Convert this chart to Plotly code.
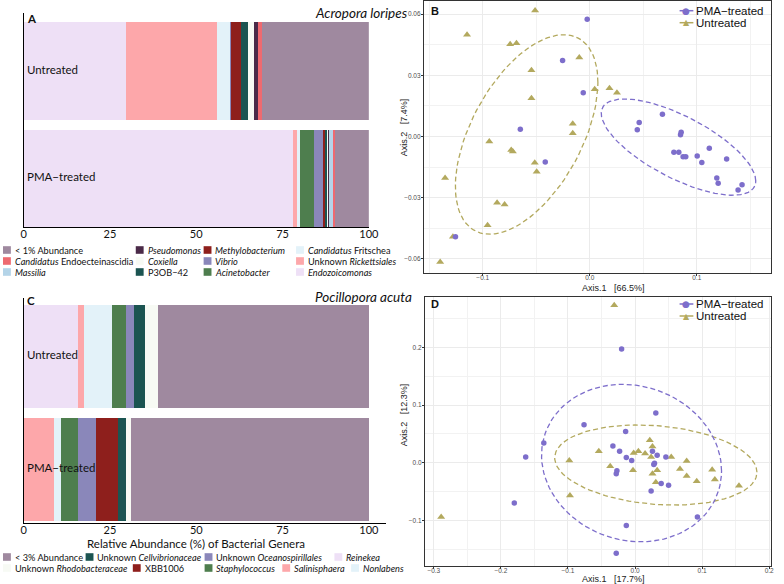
import numpy as np
import plotly.graph_objects as go

W, H = 784, 584

# ---- A: Acropora loripes, relative abundance (%) ----
a_groups = ['PMA-treated', 'Untreated']
a_genera = ['Endozoicomonas', 'Unknown Rickettsiales', 'Candidatus Fritschea', 'Acinetobacter',
            'Vibrio', 'Methylobacterium', 'P3OB-42', 'Coxiella', 'Pseudomonas', 'Massilia',
            'Candidatus Endoecteinascidia', '< 1% Abundance']
a_colors = ['#EEE0F6', '#FDA7AA', '#E3F2F9', '#4E7E4E', '#8A87BA', '#8E1F1C',
            '#1B5451', '#F7FAF4', '#4A2A48', '#B4D4E8', '#EE6A70', '#9F899F']
a_pma = [78.1, 1.1, 0.8, 4.0, 2.9, 0.4, 0.6, 0.2, 0.4, 1.3, 0.4, 9.8]
a_untreated = [29.7, 26.4, 3.8, 0.0, 0.2, 3.0, 1.9, 1.7, 1.1, 0.1, 1.1, 31.0]

# ---- C: Pocillopora acuta ----
c_genera = ['Reinekea', 'Salinisphaera', 'Nonlabens', 'Staphylococcus', 'Unknown Oceanospirillales',
            'XBB1006', 'Unknown Cellvibrionaceae', 'Unknown Rhodobacteraceae', '< 3% Abundance']
c_colors = ['#EEE0F6', '#FDA7AA', '#E3F2F9', '#4E7E4E', '#8A87BA', '#8E1F1C',
            '#1B5451', '#F7FAF4', '#9F899F']
c_pma = [0.0, 8.7, 2.0, 5.1, 5.3, 6.2, 2.4, 1.3, 69.0]
c_untreated = [15.7, 1.7, 8.1, 4.2, 2.3, 0.0, 3.1, 3.9, 61.0]

# ---- B: PCoA, Acropora loripes ----
b_pma_x = [-0.0024, -0.0254, -0.0061, -0.0649, -0.0416, -0.1255, 0.0462, 0.0444, 0.0679, 0.0854,
           0.0848, 0.0786, 0.0832, 0.0872, 0.0897, 0.1004, 0.1117, 0.1047, 0.1279, 0.1187,
           0.1200, 0.1423, 0.1386]
b_pma_y = [0.0574, 0.0373, 0.0214, 0.0035, -0.0125, -0.0491, 0.0069, 0.0033, 0.0109, 0.0021,
           0.0008, -0.0077, -0.0077, -0.0099, -0.0099, -0.0096, -0.0058, -0.0127, -0.0110, -0.0203,
           -0.0229, -0.0236, -0.0262]
b_unt_x = [-0.0511, -0.1147, -0.0744, -0.0685, -0.0098, -0.0545, 0.0046, 0.0184, 0.0254, -0.0545,
           -0.0159, -0.0159, -0.0939, -0.0734, -0.0719, -0.0514, -0.0496, -0.1352, -0.0866, -0.0796,
           -0.0955, -0.1279, -0.1398]
b_unt_y = [0.0618, 0.0499, 0.0452, 0.0457, 0.0387, 0.0325, 0.0232, 0.0236, 0.0214, 0.0188,
           0.0063, 0.0016, -0.0025, -0.0066, -0.0074, -0.0129, -0.0173, -0.0203, -0.0325, -0.0333,
           -0.0435, -0.0491, -0.0615]
# 95% ellipses: centre x, centre y, half-width x, half-height y, correlation
b_pma_ell = [0.0829, -0.0052, 0.0722, 0.0236, -0.70]
b_unt_ell = [-0.0590, 0.0010, 0.0666, 0.0489, 0.52]

# ---- D: PCoA, Pocillopora acuta ----
d_pma_x = [-0.020, 0.031, -0.076, -0.014, -0.136, -0.163, -0.033, -0.023, -0.013, -0.005,
           0.026, 0.033, 0.029, 0.028, 0.046, 0.039, 0.050, 0.024, -0.027, -0.028,
           -0.180, 0.093, -0.013, -0.028]
d_pma_y = [0.197, 0.086, 0.066, 0.054, 0.034, 0.010, 0.029, 0.020, 0.009, 0.004,
           0.020, 0.013, -0.001, -0.003, 0.010, -0.036, -0.039, -0.049, -0.014, -0.019,
           -0.070, -0.094, -0.109, -0.157]
d_unt_x = [-0.031, -0.289, -0.098, -0.097, -0.054, -0.037, -0.003, -0.002, 0.005, 0.015,
           0.022, 0.026, 0.024, 0.026, 0.033, 0.031, 0.054, 0.067, 0.077, 0.077,
           0.092, 0.115, 0.119, 0.155]
d_unt_y = [0.273, -0.094, 0.004, -0.057, 0.020, -0.006, -0.013, 0.017, 0.020, 0.016,
           0.039, 0.028, 0.010, -0.019, -0.013, -0.034, 0.010, -0.011, 0.003, -0.023,
           -0.032, -0.012, -0.029, -0.040]
d_pma_ell = [-0.0052, -0.0006, 0.1342, 0.1364, -0.10]
d_unt_ell = [0.0310, -0.0040, 0.1508, 0.0694, -0.18]

PMA_COL = '#7D6ECB'
UNT_COL = '#B3A95E'


def ellipse(params, seg=100):
    cx, cy, rx, ry, rho = params
    t = np.linspace(0, 2 * np.pi, seg)
    return cx + rx * np.cos(t), cy + ry * (rho * np.cos(t) + np.sqrt(1 - rho ** 2) * np.sin(t))


def px(x):
    return x / W


def py(y):
    return 1 - y / H


fig = go.Figure()

# stacked bars
for name, col, p, u in zip(a_genera, a_colors, a_pma, a_untreated):
    fig.add_trace(go.Bar(x=[p, u], y=a_groups, orientation='h', name=name, width=0.91,
                         marker=dict(color=col, line_width=0), xaxis='x', yaxis='y'))
for name, col, p, u in zip(c_genera, c_colors, c_pma, c_untreated):
    fig.add_trace(go.Bar(x=[p, u], y=a_groups, orientation='h', name=name, width=0.907,
                         marker=dict(color=col, line_width=0), xaxis='x3', yaxis='y3'))

# ordination panels
for xa, ya, pxs, pys, uxs, uys, pe, ue in [
        ('x2', 'y2', b_pma_x, b_pma_y, b_unt_x, b_unt_y, b_pma_ell, b_unt_ell),
        ('x4', 'y4', d_pma_x, d_pma_y, d_unt_x, d_unt_y, d_pma_ell, d_unt_ell)]:
    for par, col in [(ue, UNT_COL), (pe, PMA_COL)]:
        ex, ey = ellipse(par)
        fig.add_trace(go.Scatter(x=ex, y=ey, mode='lines', xaxis=xa, yaxis=ya,
                                 line=dict(color=col, width=1.3, dash='5px,3px'), hoverinfo='skip'))
    fig.add_trace(go.Scatter(x=uxs, y=uys, mode='markers', xaxis=xa, yaxis=ya,
                             marker=dict(symbol='triangle-up', size=7, color=UNT_COL)))
    fig.add_trace(go.Scatter(x=pxs, y=pys, mode='markers', xaxis=xa, yaxis=ya,
                             marker=dict(symbol='circle', size=5.5, color=PMA_COL)))

bar_font = dict(family='Lato', size=11, color='#111')
bar_x = dict(showline=True, linecolor='black', linewidth=1.3, showgrid=False, zeroline=False,
             ticks='', tickvals=[0, 25, 50, 75, 100], tickfont=bar_font, ticklabelstandoff=-3)
bar_y = dict(type='category', categoryorder='array', categoryarray=a_groups, showticklabels=False,
             showline=True, linecolor='black', linewidth=1.3, showgrid=False, ticks='')
sc_font = dict(family='Liberation Sans', size=6.5, color='#4D4D4D')
sc_ax = dict(showline=True, mirror=True, linecolor='#333333', linewidth=1, showgrid=True,
             gridcolor='#EBEBEB', gridwidth=1, zeroline=False, ticks='outside', ticklen=2,
             tickcolor='#333333', tickfont=sc_font)
sc_x = dict(sc_ax, ticklabelstandoff=-4)
sc_y = dict(sc_ax, ticklabelstandoff=-1)

fig.update_layout(
    width=W, height=H, margin=dict(l=0, r=0, t=0, b=0), showlegend=False,
    plot_bgcolor='white', paper_bgcolor='white', barmode='stack',
    xaxis=dict(bar_x, domain=[px(21), px(372)], range=[0, 100], anchor='y'),
    yaxis=dict(bar_y, domain=[py(227), py(13)], range=[-0.45, 1.54], anchor='x'),
    xaxis3=dict(bar_x, domain=[px(21), px(389)], range=[0, 104.84], anchor='y3'),
    yaxis3=dict(bar_y, domain=[py(523), py(298)], range=[-0.475, 1.515], anchor='x3'),
    xaxis2=dict(sc_x, domain=[px(428), px(781)], range=[-0.155, 0.1694], anchor='y2',
                tick0=0, dtick=0.1, tickformat='.1f',
                minor=dict(dtick=0.05, showgrid=True, gridcolor='#F2F2F2', ticks='')),
    yaxis2=dict(sc_y, domain=[py(273), py(1)], range=[-0.0669, 0.0664], anchor='x2',
                tick0=0, dtick=0.03, tickformat='.2f',
                minor=dict(dtick=0.015, showgrid=True, gridcolor='#F2F2F2', ticks='')),
    xaxis4=dict(sc_x, domain=[px(429), px(781)], range=[-0.3133, 0.2028], anchor='y4',
                tick0=0, dtick=0.1, tickformat='.1f',
                minor=dict(dtick=0.05, showgrid=True, gridcolor='#F2F2F2', ticks='')),
    yaxis4=dict(sc_y, domain=[py(566), py(297)], range=[-0.179, 0.2872], anchor='x4',
                tick0=0, dtick=0.1, tickformat='.1f',
                minor=dict(dtick=0.05, showgrid=True, gridcolor='#F2F2F2', ticks='')),
)


def note(x, y, text, size=11, family='Lato', color='#111', anchor='left', angle=0, **kw):
    fig.add_annotation(x=px(x), y=py(y), xref='paper', yref='paper', text=text, showarrow=False,
                       xanchor=anchor, yanchor='middle', textangle=angle,
                       font=dict(family=family, size=size, color=color), **kw)


# category labels inside the bars
for xa, ya in [('x', 'y'), ('x3', 'y3')]:
    for g in a_groups:
        fig.add_annotation(x=0, y=g, xref=xa, yref=ya, text=g.replace('-', '−'), showarrow=False,
                           xanchor='left', xshift=1, yshift=2,
                           font=dict(family='Lato', size=11.5, color='#111'))

# panel letters and titles
note(22, 18, '<b>A</b>', size=11.5)
note(22, 300, '<b>C</b>', size=11.5)
note(433, 10.5, '<b>B</b>', size=11, family='Liberation Sans')
note(433, 304, '<b>D</b>', size=11, family='Liberation Sans')
note(315, 13, '<i>Acropora loripes</i>', size=13.5)
note(315, 297, '<i>Pocillopora acuta</i>', size=13.5)
note(196, 543, 'Relative Abundance (%) of Bacterial Genera', size=11.5, anchor='center')

nb = '\u00a0'
note(621, 287.5, f'Axis.1{nb*3}[66.5%]', size=9, family='Liberation Sans', color='#222', anchor='center')
note(408, 127, f'Axis.2{nb*3}[7.4%]', size=9, family='Liberation Sans', color='#222', anchor='center', angle=-90)
note(621, 579, f'Axis.1{nb*3}[17.7%]', size=9, family='Liberation Sans', color='#222', anchor='center')
note(408, 415, f'Axis.2{nb*3}[12.3%]', size=9, family='Liberation Sans', color='#222', anchor='center', angle=-90)


# colour keys for the bar panels
def key(x0, yc, color, text):
    fig.add_shape(type='rect', xref='paper', yref='paper', x0=px(x0), x1=px(x0 + 8),
                  y0=py(yc + 3.8), y1=py(yc - 3.8), fillcolor=color, line_width=0)
    note(x0 + 10, yc, text, size=9.2)


a_labels = {'< 1% Abundance': '< 1% Abundance',
            'Candidatus Endoecteinascidia': '<i>Candidatus</i> Endoecteinascidia',
            'Massilia': '<i>Massilia</i>', 'Pseudomonas': '<i>Pseudomonas</i>',
            'Coxiella': '<i>Coxiella</i>', 'P3OB-42': 'P3OB−42',
            'Methylobacterium': '<i>Methylobacterium</i>', 'Vibrio': '<i>Vibrio</i>',
            'Acinetobacter': '<i>Acinetobacter</i>',
            'Candidatus Fritschea': '<i>Candidatus</i> Fritschea',
            'Unknown Rickettsiales': 'Unknown <i>Rickettsiales</i>',
            'Endozoicomonas': '<i>Endozoicomonas</i>'}
a_cols_x = [0, 135, 204, 298]
a_rows_y = [250, 261, 272]
legend_order = a_genera[::-1]
for i, name in enumerate(legend_order):
    key(a_cols_x[i // 3], a_rows_y[i % 3], a_colors[a_genera.index(name)], a_labels[name])

c_labels = {'< 3% Abundance': '< 3% Abundance',
            'Unknown Cellvibrionaceae': 'Unknown <i>Cellvibrionaceae</i>',
            'Unknown Oceanospirillales': 'Unknown <i>Oceanospirillales</i>',
            'Reinekea': '<i>Reinekea</i>',
            'Unknown Rhodobacteraceae': 'Unknown <i>Rhodobacteraceae</i>',
            'XBB1006': 'XBB1006', 'Staphylococcus': '<i>Staphylococcus</i>',
            'Salinisphaera': '<i>Salinisphaera</i>', 'Nonlabens': '<i>Nonlabens</i>'}
c_keys = [('< 3% Abundance', 0, 557), ('Unknown Cellvibrionaceae', 84, 557),
          ('Unknown Oceanospirillales', 205, 557), ('Reinekea', 337, 557),
          ('Unknown Rhodobacteraceae', 0, 568), ('XBB1006', 132, 568),
          ('Staphylococcus', 205, 568), ('Salinisphaera', 284, 568), ('Nonlabens', 354, 568)]
for name, x0, yc in c_keys:
    key(x0, yc, c_colors[c_genera.index(name)], c_labels[name])

# legends of the ordination panels
for y0 in [10.7, 304]:
    for dy, col, glyph, gsize, label in [(0, PMA_COL, '●', 9, 'PMA−treated'),
                                         (12, UNT_COL, '▲', 8, 'Untreated')]:
        yc = y0 + dy
        fig.add_shape(type='line', xref='paper', yref='paper', x0=px(688), x1=px(702),
                      y0=py(yc), y1=py(yc), line=dict(color=col, width=1.5))
        note(695, yc, glyph, size=gsize, family='DejaVu Sans', color=col, anchor='center')
        note(703, yc, label, size=11.5, family='Liberation Sans', color='#111')

fig.write_html('out.html', config={'displayModeBar': False},
               post_script="document.body.style.margin='0';document.body.style.overflow='hidden';")
